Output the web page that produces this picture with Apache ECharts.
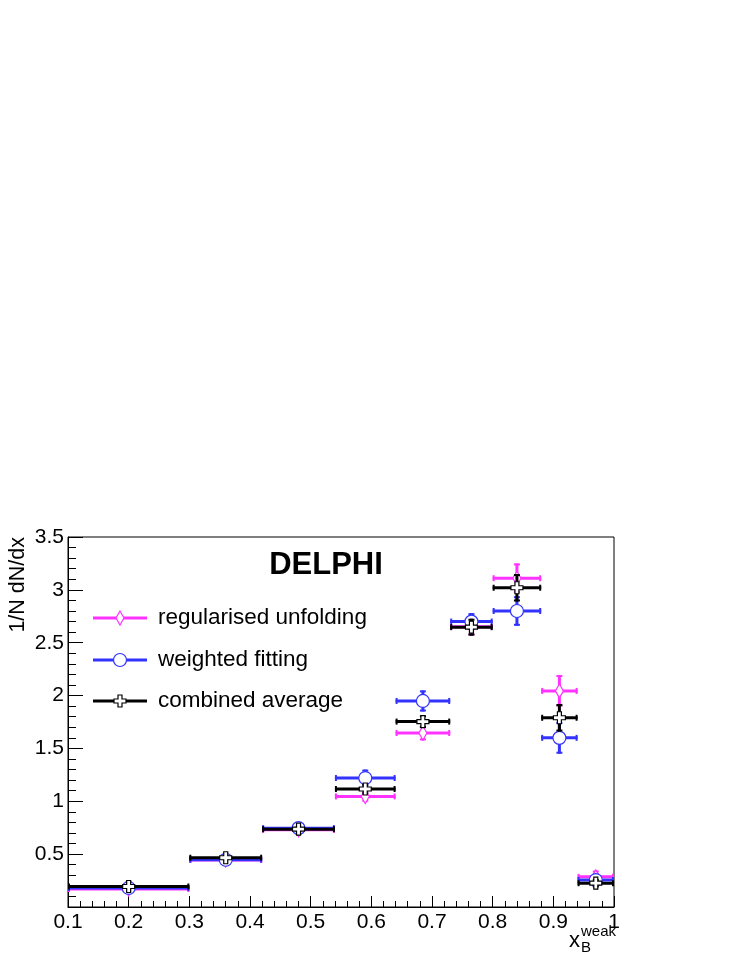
<!DOCTYPE html>
<html><head><meta charset="utf-8">
<script src="https://cdn.jsdelivr.net/npm/echarts@6/dist/echarts.min.js"></script>
<style>html,body{margin:0;padding:0;background:#fff}#c{width:737px;height:954px}</style>
</head><body><div id="c"></div>
<script>
const xCenters = [0.2, 0.36, 0.48, 0.59, 0.685, 0.765, 0.84, 0.91, 0.97];
const xLow     = [0.1, 0.3, 0.42, 0.54, 0.64, 0.73, 0.8, 0.88, 0.94];
const xHigh    = [0.3, 0.42, 0.54, 0.64, 0.73, 0.8, 0.88, 0.94, 1.0];
const unfoldVals = [0.17, 0.445, 0.73, 1.046, 1.646, 2.65, 3.11, 2.044, 0.285];
const unfoldErr  = [0.03, 0.03, 0.03, 0.05, 0.07, 0.08, 0.14, 0.15, 0.06];
const fitVals    = [0.18, 0.447, 0.746, 1.22, 1.949, 2.70, 2.80, 1.60, 0.255];
const fitErr     = [0.03, 0.03, 0.03, 0.08, 0.10, 0.08, 0.14, 0.15, 0.06];
const avgVals    = [0.194, 0.466, 0.736, 1.116, 1.754, 2.647, 3.02, 1.79, 0.225];
const avgErr     = [0.02, 0.02, 0.02, 0.05, 0.06, 0.08, 0.13, 0.13, 0.04];
const seriesNames = ['regularised unfolding', 'weighted fitting', 'combined average'];

const MAGENTA = '#ff33ff', BLUE = '#3333ff', BLACK = '#000000';

function markerShape(shape, cx, cy, color) {
  if (shape === 'circle') {
    return {type: 'circle', shape: {cx: cx, cy: cy, r: 6.5}, style: {fill: '#fff', stroke: color, lineWidth: 1.2}};
  }
  if (shape === 'diamond') {
    return {type: 'polygon', shape: {points: [[cx, cy - 7], [cx + 4, cy], [cx, cy + 7], [cx - 4, cy]]},
      style: {fill: '#fff', stroke: color, lineWidth: 1.2}};
  }
  const a = 6, b = 2;
  const pts = [[-b,-a],[b,-a],[b,-b],[a,-b],[a,b],[b,b],[b,a],[-b,a],[-b,b],[-a,b],[-a,-b],[-b,-b]].map(p => [cx + p[0], cy + p[1]]);
  return {type: 'polygon', shape: {points: pts}, style: {fill: '#fff', stroke: color, lineWidth: 1.2}};
}

function makeRender(color, shape) {
  return function (params, api) {
    const x = api.value(0), y = api.value(1), lo = api.value(2), hi = api.value(3), e = api.value(4);
    const c = api.coord([x, y]);
    const pl = api.coord([lo, y]), ph = api.coord([hi, y]);
    const pt = api.coord([x, y + e]), pb = api.coord([x, y - e]);
    const ls = {stroke: color, lineWidth: 3};
    const cs = {stroke: color, lineWidth: 2};
    const children = [
      {type: 'line', shape: {x1: pl[0], y1: c[1], x2: ph[0], y2: c[1]}, style: ls},
      {type: 'line', shape: {x1: c[0], y1: pt[1], x2: c[0], y2: pb[1]}, style: ls},
      {type: 'line', shape: {x1: pl[0] + 1, y1: c[1] - 3, x2: pl[0] + 1, y2: c[1] + 3}, style: cs},
      {type: 'line', shape: {x1: ph[0] - 1, y1: c[1] - 3, x2: ph[0] - 1, y2: c[1] + 3}, style: cs},
      {type: 'line', shape: {x1: c[0] - 3, y1: pt[1] + 1, x2: c[0] + 3, y2: pt[1] + 1}, style: cs},
      {type: 'line', shape: {x1: c[0] - 3, y1: pb[1] - 1, x2: c[0] + 3, y2: pb[1] - 1}, style: cs},
      markerShape(shape, c[0], c[1], color)
    ];
    return {type: 'group', children: children};
  };
}

function buildData(vals, errs) {
  return xCenters.map((x, i) => [x, vals[i], xLow[i], xHigh[i], errs[i]]);
}

const fontFam = '"Liberation Sans", Arial, sans-serif';
function legendItem(y, color, shape, text) {
  return [
    {type: 'line', shape: {x1: 93, y1: y, x2: 147, y2: y}, style: {stroke: color, lineWidth: 3}},
    markerShape(shape, 120, y, color),
    {type: 'text', x: 158, y: y, style: {text: text, font: '22.5px ' + fontFam, fill: '#000', textVerticalAlign: 'middle', textAlign: 'left'}}
  ];
}

const chart = echarts.init(document.getElementById('c'), null, {renderer: 'canvas'});
chart.setOption({
  animation: false,
  backgroundColor: '#fff',
  grid: {left: 68, right: 123, top: 537, bottom: 47, show: true, borderColor: '#000', borderWidth: 1, backgroundColor: 'transparent'},
  xAxis: {
    type: 'value', min: 0.1, max: 1, interval: 0.1,
    axisLine: {show: true, lineStyle: {color: '#000', width: 1}},
    axisTick: {show: true, inside: true, length: 11, lineStyle: {color: '#000'}},
    minorTick: {show: true, splitNumber: 5, length: 6, lineStyle: {color: '#000'}},
    splitLine: {show: false},
    axisLabel: {color: '#000', fontSize: 21, fontFamily: fontFam, margin: 5,
      formatter: v => String(Math.round(v * 10) / 10)}
  },
  yAxis: {
    type: 'value', min: 0, max: 3.5, interval: 0.5,
    axisLine: {show: true, lineStyle: {color: '#000', width: 1}},
    axisTick: {show: true, inside: true, length: 15, lineStyle: {color: '#000'}},
    minorTick: {show: true, splitNumber: 5, length: 8, lineStyle: {color: '#000'}},
    splitLine: {show: false},
    axisLabel: {color: '#000', fontSize: 21, fontFamily: fontFam, margin: 4,
      formatter: v => (Math.abs(v) < 1e-9 ? '' : String(Math.round(v * 10) / 10))}
  },
  series: [
    {type: 'custom', name: seriesNames[0], renderItem: makeRender(MAGENTA, 'diamond'), data: buildData(unfoldVals, unfoldErr), encode: {x: 0, y: 1}, z: 2, clip: false},
    {type: 'custom', name: seriesNames[1], renderItem: makeRender(BLUE, 'circle'), data: buildData(fitVals, fitErr), encode: {x: 0, y: 1}, z: 3, clip: false},
    {type: 'custom', name: seriesNames[2], renderItem: makeRender(BLACK, 'cross'), data: buildData(avgVals, avgErr), encode: {x: 0, y: 1}, z: 4, clip: false}
  ],
  graphic: [].concat(
    legendItem(618, MAGENTA, 'diamond', seriesNames[0]),
    legendItem(660, BLUE, 'circle', seriesNames[1]),
    legendItem(701, BLACK, 'cross', seriesNames[2]),
    [
      {type: 'text', x: 326, y: 565, style: {text: 'DELPHI', font: 'bold 31px ' + fontFam, fill: '#000', textAlign: 'center', textVerticalAlign: 'middle'}},
      {type: 'text', x: 18, y: 537, rotation: Math.PI / 2, style: {text: '1/N dN/dx', font: '21.5px ' + fontFam, fill: '#000', textAlign: 'right', textVerticalAlign: 'middle'}},
      {type: 'text', x: 569, y: 941, style: {text: 'x', font: '22px ' + fontFam, fill: '#000', textAlign: 'left', textVerticalAlign: 'middle'}},
      {type: 'text', x: 581, y: 932, style: {text: 'weak', font: '15px ' + fontFam, fill: '#000', textAlign: 'left', textVerticalAlign: 'middle'}},
      {type: 'text', x: 581, y: 948, style: {text: 'B', font: '15px ' + fontFam, fill: '#000', textAlign: 'left', textVerticalAlign: 'middle'}}
    ]
  )
});
</script>
</body></html>
